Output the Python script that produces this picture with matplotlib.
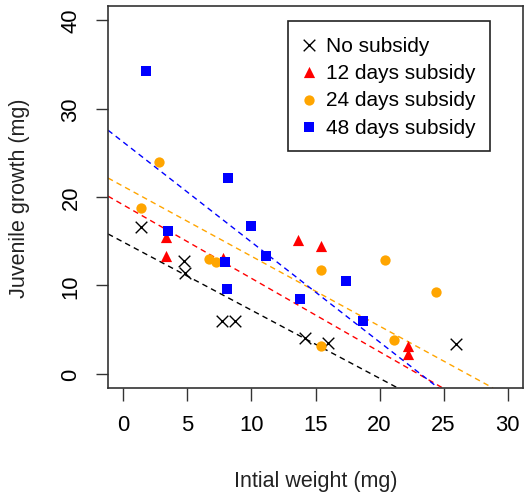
import matplotlib
matplotlib.use("Agg")
import matplotlib.pyplot as plt
import numpy as np

plt.rcParams['font.family'] = ['Liberation Sans', 'DejaVu Sans']

# values
no_x = [1.4, 4.7, 4.8, 7.7, 8.7, 14.2, 16.0, 26.0]
no_y = [16.6, 12.8, 11.4, 6.0, 6.0, 4.0, 3.5, 3.4]

d12_x = [3.3, 3.3, 7.8, 13.6, 15.4, 22.2, 22.2]
d12_y = [15.5, 13.3, 13.1, 15.1, 14.5, 3.1, 2.2]

d24_x = [2.8, 1.4, 6.7, 7.2, 15.4, 20.4, 24.4, 21.1, 15.4]
d24_y = [24.0, 18.7, 13.0, 12.6, 11.8, 12.9, 9.3, 3.8, 3.1]

d48_x = [1.8, 3.5, 8.2, 7.9, 8.1, 10.0, 11.1, 13.8, 17.4, 18.7]
d48_y = [34.3, 16.1, 22.2, 12.6, 9.6, 16.7, 13.3, 8.5, 10.5, 6.0]

# fitted lines (intercept, slope) as drawn in the picture
fit_intercepts = [14.9, 19.1, 21.2, 26.2]
fit_slopes = [-0.77, -0.83, -0.79, -1.13]

labels = ["No subsidy", "12 days subsidy", "24 days subsidy", "48 days subsidy"]
colors = ["black", "red", "orange", "blue"]

fig = plt.figure(figsize=(5.24, 5.02), dpi=100)
ax = fig.add_axes([108 / 524, 113 / 502, 415 / 524, 382 / 502])

ax.scatter(no_x, no_y, marker='x', s=70, color='black', linewidths=1.0, label=labels[0], zorder=3)
ax.scatter(d12_x, d12_y, marker='^', s=65, color='red', linewidths=0, label=labels[1], zorder=3)
ax.scatter(d24_x, d24_y, marker='o', s=55, color='orange', linewidths=0, label=labels[2], zorder=3)
ax.scatter(d48_x, d48_y, marker='s', s=60, color='blue', linewidths=0, label=labels[3], zorder=3)

for b, m, c in zip(fit_intercepts, fit_slopes, colors):
    ax.axline((0, b), slope=m, color=c, linestyle=(0, (4, 3)), linewidth=1.0, zorder=2)

ax.set_xlim(-1.2, 31.2)
ax.set_ylim(-1.6, 41.6)
ax.set_xticks(np.arange(0, 31, 5))
ax.set_yticks(np.arange(0, 41, 10))
ax.set_yticklabels([str(v) for v in range(0, 41, 10)], rotation=90, va='center')
ax.tick_params(direction='out', length=9, width=1.0, labelsize=15.8, color='#333333')
ax.tick_params(axis='x', pad=10)
ax.tick_params(axis='y', pad=10)
for s in ax.spines.values():
    s.set_color('#333333')
    s.set_linewidth(1.2)

ax.set_xlabel("Intial weight (mg)", fontsize=15.5, labelpad=25, color='#222222')
ax.set_ylabel("Juvenile growth (mg)", fontsize=15.5, labelpad=22, color='#222222')

leg = ax.legend(loc='upper right', bbox_to_anchor=(0.9205, 0.9607), borderaxespad=0,
                fontsize=15, frameon=True, fancybox=False, edgecolor='#222222', framealpha=1,
                handletextpad=0.5, labelspacing=0.4, borderpad=0.7, handlelength=0.6,
                scatterpoints=1)
leg.get_frame().set_linewidth(1.2)

plt.savefig("out.png", dpi=100)
